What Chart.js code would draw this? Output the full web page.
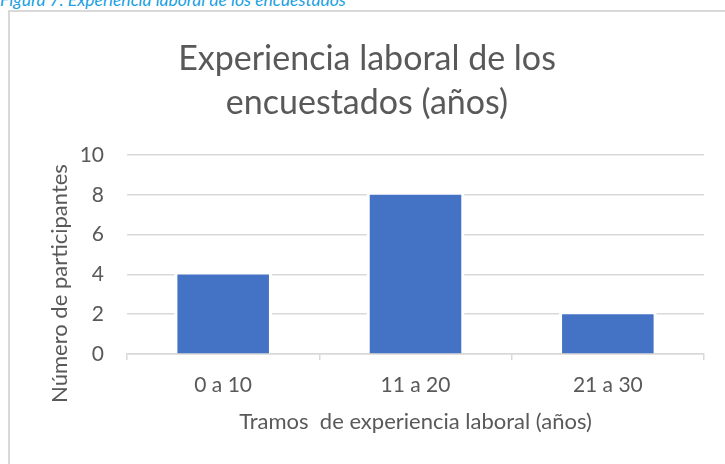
<!DOCTYPE html>
<html>
<head>
<meta charset="utf-8">
<script src="https://cdn.jsdelivr.net/npm/chart.js@4.4.0/dist/chart.umd.min.js"></script>
<style>
    html, body { margin: 0; padding: 0; background: #fff; }
    #wrap { position: relative; width: 725px; height: 464px; overflow: hidden; }
    #caption {
        position: absolute; left: 0; top: -8px;
        font: italic 17.5px Lato, sans-serif; line-height: 16px;
        color: #1ba1e2; white-space: nowrap;
    }
    #frame {
        position: absolute; left: 8px; top: 10px; width: 800px; height: 600px;
        border-left: 2px solid #d9d9d9; border-top: 2px solid #d9d9d9;
    }
    canvas { position: absolute; left: 0; top: 0; }
</style>
</head>
<body>
<div id="wrap">
    <div id="caption">Figura 7. Experiencia laboral de los encuestados</div>
    <div id="frame"></div>
    <canvas id="expChart" width="725" height="464"></canvas>
</div>
<script>
// datos del grafico
const tramos = ['0 a 10', '11 a 20', '21 a 30'];
const participantes = [4, 8, 2];
const yTicks = [0, 2, 4, 6, 8, 10];
const tituloY = 'Número de participantes';

const textColor = '#595959';
const gridColor = '#d9d9d9';

// deja un hueco blanco alrededor de cada barra, como en Excel
const barGap = {
    id: 'barGap',
    beforeDatasetsDraw(chart) {
        const ctx = chart.ctx;
        const base = chart.scales.y.getPixelForValue(0);
        ctx.save();
        ctx.fillStyle = '#fff';
        chart.getDatasetMeta(0).data.forEach(bar => {
            const w = bar.width;
            ctx.fillRect(bar.x - w / 2 - 3, bar.y - 3, w + 6, base - bar.y + 2);
        });
        ctx.restore();
    }
};

// titulo del eje Y, un poco por debajo del centro como en el original
const yTitle = {
    id: 'yTitle',
    afterDraw(chart) {
        const ctx = chart.ctx;
        const area = chart.chartArea;
        ctx.save();
        ctx.translate(chart.scales.y.left + 30, (area.top + area.bottom) / 2 + 29);
        ctx.rotate(-Math.PI / 2);
        ctx.font = '22px Lato';
        ctx.fillStyle = textColor;
        ctx.textAlign = 'center';
        ctx.textBaseline = 'middle';
        ctx.fillText(tituloY, 0, 0);
        ctx.restore();
    }
};

new Chart(document.getElementById('expChart'), {
    type: 'bar',
    data: {
        labels: tramos,
        datasets: [{
            label: tituloY,
            data: participantes,
            backgroundColor: '#4472c4',
            borderWidth: 0,
            categoryPercentage: 1,
            barPercentage: 0.476
        }]
    },
    options: {
        responsive: false,
        animation: false,
        layout: {
            padding: { top: 0, left: 30, right: 21, bottom: 0 }
        },
        plugins: {
            legend: { display: false },
            tooltip: { enabled: false },
            title: {
                display: true,
                text: ['Experiencia laboral de los', 'encuestados (años)'],
                color: textColor,
                font: { family: 'Lato', size: 34, weight: 'normal', lineHeight: 1.294 },
                padding: { top: 37, bottom: 30 }
            }
        },
        scales: {
            x: {
                grid: {
                    display: true,
                    offset: true,
                    drawOnChartArea: false,
                    drawTicks: true,
                    tickLength: 6,
                    color: gridColor,
                    lineWidth: 1.5
                },
                border: { display: true, color: gridColor, width: 1.5 },
                ticks: {
                    color: textColor,
                    font: { family: 'Lato', size: 21 },
                    padding: 13
                },
                title: {
                    display: true,
                    text: 'Tramos  de experiencia laboral (años)',
                    color: textColor,
                    font: { family: 'Lato', size: 22 },
                    padding: { top: 0, bottom: 29 }
                },
                afterFit(scale) {
                    scale.height = 110;
                }
            },
            y: {
                min: 0,
                max: 10,
                afterBuildTicks(scale) {
                    scale.ticks = yTicks.map(v => ({ value: v }));
                },
                grid: {
                    color: gridColor,
                    lineWidth: 1.5,
                    drawTicks: false
                },
                border: { display: false },
                ticks: {
                    color: textColor,
                    font: { family: 'Lato', size: 21 },
                    padding: 23
                },
                afterFit(scale) {
                    scale.width = 97;
                }
            }
        }
    },
    plugins: [barGap, yTitle]
});
</script>
</body>
</html>
